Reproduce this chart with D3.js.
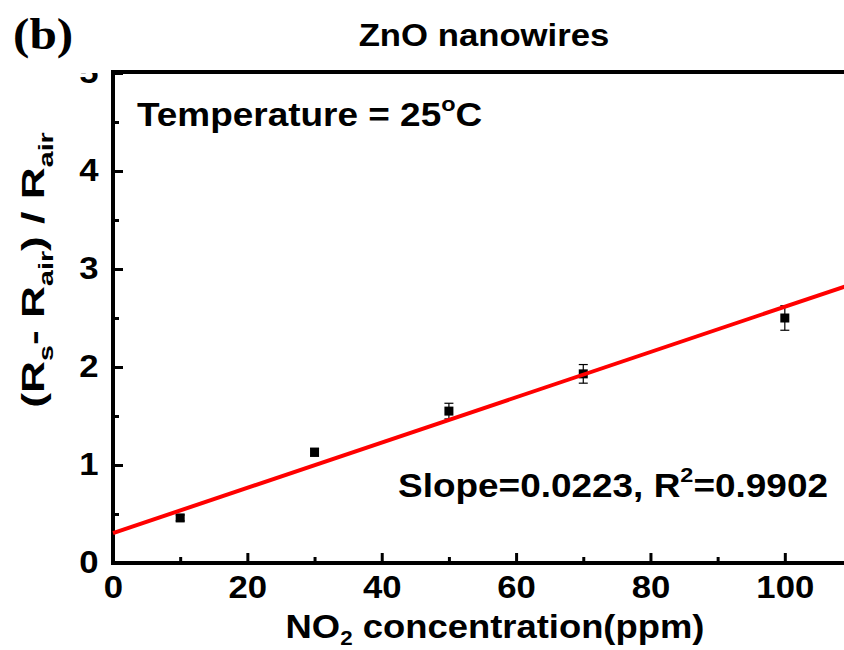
<!DOCTYPE html>
<html>
<head>
<meta charset="utf-8">
<script src="https://cdn.jsdelivr.net/npm/d3@7"></script>
<style>
  body { margin: 0; background: #fff; }
  svg { display: block; }
  text { font-family: "Liberation Sans", Arial, sans-serif; font-weight: bold; fill: #000; }
</style>
</head>
<body>
<div id="chart"></div>
<script>
// measured points: NO2 concentration (ppm) vs response
const concentrations = [10, 30, 50, 70, 100]
const responses = [0.46, 1.13, 1.55, 1.93, 2.5]
const errors = [0.03, 0.04, 0.08, 0.095, 0.125]

// linear fit as drawn (end points)
const fitX = [0, 110]
const fitY = [0.305, 2.846]

const xTicks = [0, 20, 40, 60, 80, 100]
const xMinor = [10, 30, 50, 70, 90]
const yTicks = [0, 1, 2, 3, 4, 5]
const yMinor = [0.5, 1.5, 2.5, 3.5, 4.5]

const W = 844, H = 650
const sx = 1.12 // the figure is slightly stretched horizontally

const svg = d3.select("#chart").append("svg")
    .attr("width", W)
    .attr("height", H)

const x = d3.scaleLinear().domain([0, 110]).range([113, 852])
const y = d3.scaleLinear().domain([0, 5]).range([563, 73])

// clip for the tick label cut off at the top of the frame
svg.append("clipPath").attr("id", "frameclip")
    .append("rect").attr("x", -300).attr("y", 73).attr("width", W + 300).attr("height", H)

// x axis
const gx = svg.append("g").attr("transform", `translate(0,${y(0)})`)
gx.call(d3.axisBottom(x).tickValues(xTicks).tickSize(-10).tickPadding(13).tickFormat(d3.format("d")))
gx.append("g").call(d3.axisBottom(x).tickValues(xMinor).tickSize(-6).tickFormat(""))

// y axis
const gy = svg.append("g").attr("transform", `translate(${x(0)},0)`).attr("clip-path", "url(#frameclip)")
gy.call(d3.axisLeft(y).tickValues(yTicks).tickSize(-10).tickPadding(13).tickFormat(d3.format("d")))
gy.append("g").call(d3.axisLeft(y).tickValues(yMinor).tickSize(-6).tickFormat(""))

svg.selectAll(".domain").remove()
svg.selectAll(".tick line").attr("stroke", "#000").attr("stroke-width", 3)
svg.selectAll(".tick text")
    .style("font-size", "31px")
    .attr("fill", "#000")
    .attr("transform", `scale(${sx},1)`)

// frame lines: left, bottom, top
const frame = svg.append("g").attr("stroke", "#000").attr("stroke-width", 4).attr("fill", "none")
frame.append("line").attr("x1", x(0)).attr("x2", x(0)).attr("y1", y(5) - 2).attr("y2", y(0) + 2)
frame.append("line").attr("x1", x(0) - 2).attr("x2", x(110)).attr("y1", y(0)).attr("y2", y(0))
frame.append("line").attr("x1", x(0) - 2).attr("x2", x(110)).attr("y1", y(5) - 1).attr("y2", y(5) - 1)

// error bars
const pts = concentrations.map((c, i) => ({ c, r: responses[i], e: errors[i] }))
const eb = svg.append("g").attr("stroke", "#000").attr("stroke-width", 1.2)
pts.forEach(d => {
    eb.append("line").attr("x1", x(d.c)).attr("x2", x(d.c)).attr("y1", y(d.r - d.e)).attr("y2", y(d.r + d.e))
    eb.append("line").attr("x1", x(d.c) - 4.5).attr("x2", x(d.c) + 4.5).attr("y1", y(d.r - d.e)).attr("y2", y(d.r - d.e))
    eb.append("line").attr("x1", x(d.c) - 4.5).attr("x2", x(d.c) + 4.5).attr("y1", y(d.r + d.e)).attr("y2", y(d.r + d.e))
})

// squares
svg.selectAll("rect.pt")
    .data(pts)
    .enter()
    .append("rect")
    .attr("class", "pt")
    .attr("x", d => x(d.c) - 4.5)
    .attr("y", d => y(d.r) - 4.5)
    .attr("width", 9)
    .attr("height", 9)
    .attr("fill", "#000")

// fit line
svg.append("path")
    .datum(fitX.map((v, i) => [v, fitY[i]]))
    .attr("d", d3.line().x(d => x(d[0])).y(d => y(d[1])))
    .attr("stroke", "#ff0000")
    .attr("stroke-width", 4)
    .attr("fill", "none")

// helper for stretched text
const label = (px, py, size, anchor) => svg.append("text")
    .attr("transform", `translate(${px},${py}) scale(${sx},1)`)
    .attr("text-anchor", anchor)
    .style("font-size", size + "px")

label(13, 49, 44, "start")
    .style("font-family", "'Liberation Serif', 'Times New Roman', serif")
    .text("(b)")

label(484, 46, 31, "middle").text("ZnO nanowires")

const temp = label(137, 126, 33, "start")
temp.append("tspan").text("Temperature = 25")
temp.append("tspan").attr("dy", -15).style("font-size", "21px").text("o")
temp.append("tspan").attr("dy", 15).text("C")

const slope = label(398, 497, 33, "start")
slope.append("tspan").text("Slope=0.0223, R")
slope.append("tspan").attr("dy", -15).style("font-size", "21px").text("2")
slope.append("tspan").attr("dy", 15).text("=0.9902")

const xl = label(495, 638, 32.5, "middle")
xl.append("tspan").text("NO")
xl.append("tspan").attr("dy", 7).style("font-size", "20px").text("2")
xl.append("tspan").attr("dy", -7).text(" concentration(ppm)")

const yl = svg.append("text")
    .attr("transform", `translate(44,270) rotate(-90) scale(1.43,1)`)
    .attr("text-anchor", "middle")
    .style("font-size", "31px")
yl.append("tspan").text("(R")
yl.append("tspan").attr("dy", 9).style("font-size", "20px").text("s")
yl.append("tspan").attr("dy", -9).text("- R")
yl.append("tspan").attr("dy", 9).style("font-size", "20px").text("air")
yl.append("tspan").attr("dy", -9).text(") / R")
yl.append("tspan").attr("dy", 9).style("font-size", "20px").text("air")
</script>
</body>
</html>
